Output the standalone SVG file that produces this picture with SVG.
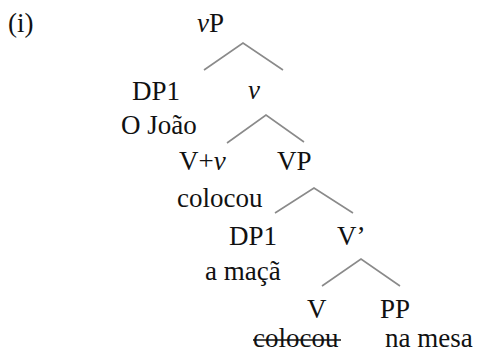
<svg xmlns="http://www.w3.org/2000/svg" width="477" height="352" viewBox="0 0 477 352">
<rect width="477" height="352" fill="#fff"/>
<g id="connectors" fill="none" stroke="#8a8a8a" stroke-width="1.6">
<polyline points="204,70 243,43 283,70"/>
<polyline points="227,143 266,115 304,142"/>
<polyline points="275,213 314,188 353,213"/>
<polyline points="322,286 361,259 400,286"/>
</g>
<g id="label-i"><text font-family="Liberation Serif" font-size="27" fill="#111" x="8" y="32">(i)</text></g>
<g id="node-vP"><text font-family="Liberation Serif" font-size="27" fill="#111" x="197" y="32"><tspan font-style="italic">v</tspan>P</text></g>
<g id="node-DP1a"><text font-family="Liberation Serif" font-size="27" fill="#111" x="132" y="100">DP1</text><text font-family="Liberation Serif" font-size="27" fill="#111" x="121" y="134">O João</text></g>
<g id="node-vbar"><text font-family="Liberation Serif" font-size="27" fill="#111" font-style="italic" x="248" y="99">v</text></g>
<g id="node-Vv"><text font-family="Liberation Serif" font-size="27" fill="#111" x="179" y="170">V+<tspan font-style="italic">v</tspan></text><text font-family="Liberation Serif" font-size="27" fill="#111" x="177" y="207">colocou</text></g>
<g id="node-VP"><text font-family="Liberation Serif" font-size="27" fill="#111" x="277" y="170">VP</text></g>
<g id="node-DP1b"><text font-family="Liberation Serif" font-size="27" fill="#111" x="229" y="245">DP1</text><text font-family="Liberation Serif" font-size="27" fill="#111" x="205" y="280">a maçã</text></g>
<g id="node-Vbar"><text font-family="Liberation Serif" font-size="27" fill="#111" x="337" y="245">V’</text></g>
<g id="node-V"><text font-family="Liberation Serif" font-size="27" fill="#111" x="307" y="318">V</text><text font-family="Liberation Serif" font-size="27" fill="#111" x="253" y="347">colocou</text><line x1="253" y1="340" x2="341" y2="340" stroke="#111" stroke-width="1.4"/></g>
<g id="node-PP"><text font-family="Liberation Serif" font-size="27" fill="#111" x="380" y="318">PP</text><text font-family="Liberation Serif" font-size="27" fill="#111" x="385" y="347">na mesa</text></g>
</svg>
